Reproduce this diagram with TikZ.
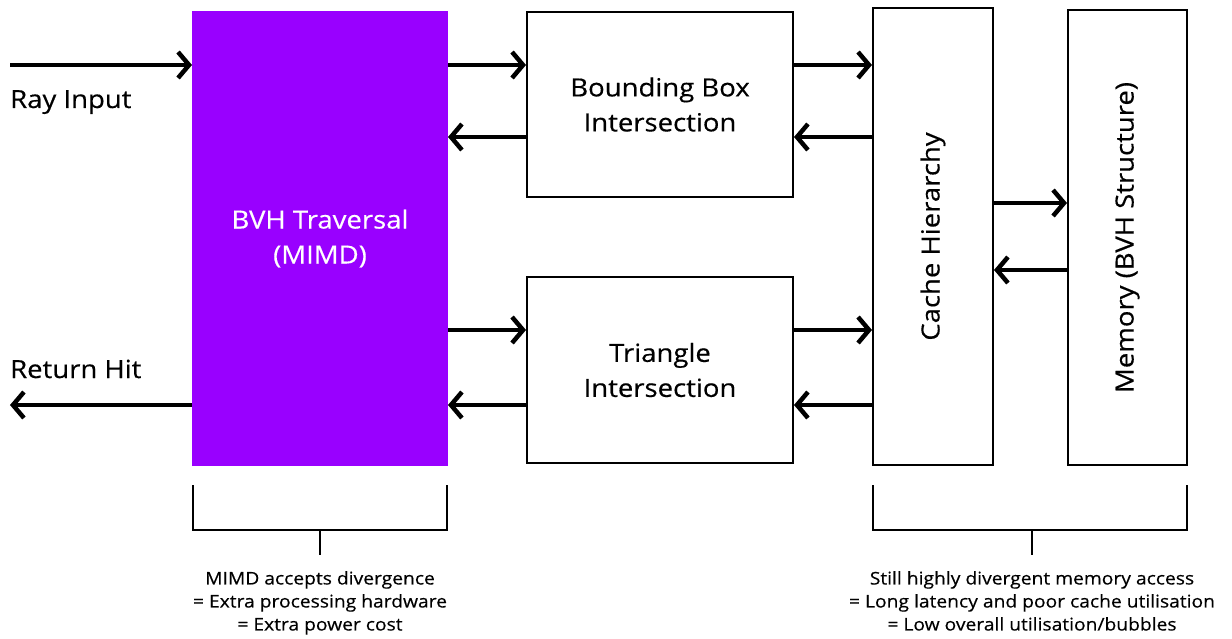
\documentclass[tikz,border=0pt]{standalone}
\usepackage{fontspec}
\setmainfont{Open Sans}[FakeStretch=1.1, FakeBold=0.4]
\usetikzlibrary{arrows.meta}
\definecolor{mimd}{RGB}{153,0,255}
\tikzset{
  blockbox/.style={draw=black, line width=2pt, align=center, inner sep=0pt,
    font=\fontsize{25}{35}\selectfont},
  flow/.style={line width=4pt, -{Straight Barb[length=11pt, width=26pt, line width=4.5pt]}},
  brace/.style={line width=2.5pt},
  lbl/.style={font=\fontsize{25}{30}\selectfont, inner sep=0pt},
  note/.style={font=\fontsize{17.5}{23}\selectfont, align=center, inner sep=0pt}
}
\begin{document}
\begin{tikzpicture}[x=1pt, y=-1pt]
\useasboundingbox (0,0) rectangle (1232,639);

% processing blocks
\node[blockbox, fill=mimd, draw=mimd, text=white, minimum width=254pt, minimum height=453pt]
  (bvh) at (320,238.5) {BVH Traversal\\(MIMD)};
\node[blockbox, minimum width=266pt, minimum height=185pt] (bbox) at (660,104.5) {Bounding Box\\Intersection};
\node[blockbox, minimum width=266pt, minimum height=186pt] (tri) at (660,370) {Triangle\\Intersection};
\node[blockbox, minimum width=120pt, minimum height=457pt] (cache) at (933,236.5) {\rotatebox{90}{Cache Hierarchy}};
\node[blockbox, minimum width=119pt, minimum height=455pt] (mem) at (1127.5,237.5) {\rotatebox{90}{Memory (BVH Structure)}};

% rows of the connectors
\coordinate (yA) at (0,65);
\coordinate (yB) at (0,137);
\coordinate (yC) at (0,330);
\coordinate (yD) at (0,405);
\coordinate (yE) at (0,203);
\coordinate (yF) at (0,270);
\coordinate (rayin) at (10,65);
\coordinate (hitout) at (10,405);

% external input / output
\draw[flow] (rayin) -- (bvh.west |- yA);
\draw[flow] (bvh.west |- yD) -- (hitout);
\node[lbl, anchor=base west] (raylbl) at (10,108) {Ray Input};
\node[lbl, anchor=base west] (hitlbl) at (10,378) {Return Hit};

% traversal <-> intersection units
\draw[flow] (bvh.east |- yA) -- (bbox.west |- yA);
\draw[flow] (bbox.west |- yB) -- (bvh.east |- yB);
\draw[flow] (bvh.east |- yC) -- (tri.west |- yC);
\draw[flow] (tri.west |- yD) -- (bvh.east |- yD);

% intersection units <-> cache
\draw[flow] (bbox.east |- yA) -- (cache.west |- yA);
\draw[flow] (cache.west |- yB) -- (bbox.east |- yB);
\draw[flow] (tri.east |- yC) -- (cache.west |- yC);
\draw[flow] (cache.west |- yD) -- (tri.east |- yD);

% cache <-> memory
\draw[flow] (cache.east |- yE) -- (mem.west |- yE);
\draw[flow] (mem.west |- yF) -- (cache.east |- yF);

% brackets with notes
\coordinate (b1l) at (193,485);
\coordinate (b1r) at (447,485);
\draw[brace] (b1l) -- ++(0,45) -| (b1r);
\coordinate (s1) at (320,530);
\draw[brace] (s1) -- ++(0,25);
\node[note, anchor=north] (n1) at (320,571)
  {MIMD accepts divergence\\= Extra processing hardware\\= Extra power cost};

\coordinate (b2l) at (873,485);
\coordinate (b2r) at (1187,485);
\draw[brace] (b2l) -- ++(0,45) -| (b2r);
\coordinate (s2) at (1032,530);
\draw[brace] (s2) -- ++(0,25);
\node[note, anchor=north] (n2) at (1032,571)
  {Still highly divergent memory access\\= Long latency and poor cache utilisation\\= Low overall utilisation/bubbles};
\end{tikzpicture}
\end{document}
